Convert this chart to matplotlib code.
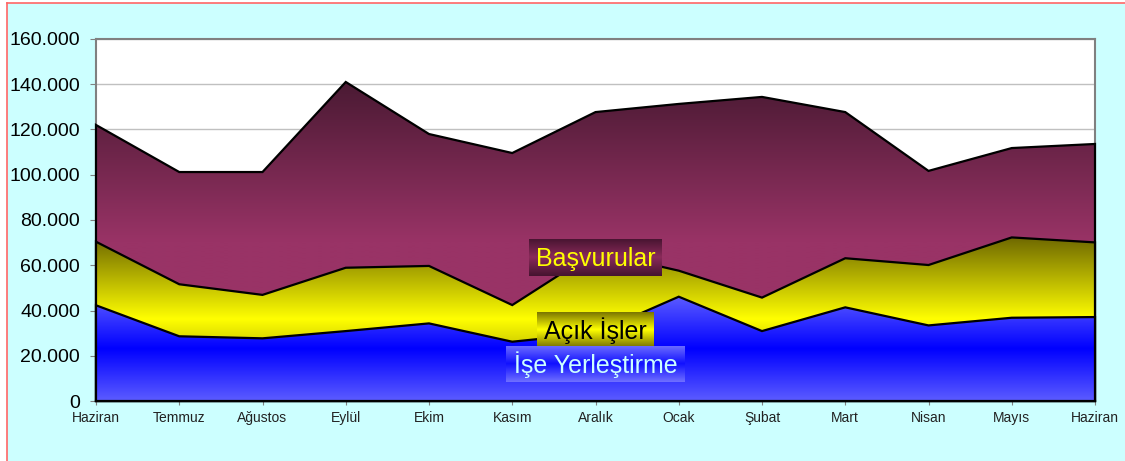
import matplotlib
matplotlib.use('Agg')
import matplotlib.pyplot as plt
import numpy as np
from matplotlib.colors import to_rgb
from matplotlib.patches import Polygon, Rectangle
from matplotlib.lines import Line2D
from matplotlib.ticker import FuncFormatter, MultipleLocator

plt.rcParams['font.family'] = ['Liberation Sans', 'DejaVu Sans']

# data
months = ['Haziran', 'Temmuz', 'Ağustos', 'Eylül', 'Ekim', 'Kasım', 'Aralık',
          'Ocak', 'Şubat', 'Mart', 'Nisan', 'Mayıs', 'Haziran']
basvurular = [122000, 101200, 101200, 141000, 118000, 109600, 127700,
              131300, 134400, 127700, 101700, 111800, 113600]
acik_isler = [70400, 51600, 46900, 58900, 59700, 42400, 66000,
              57600, 45700, 63100, 60100, 72300, 70100]
ise_yerlestirme = [42300, 28600, 27700, 30900, 34300, 26200, 30000,
                   46100, 30900, 41400, 33400, 36800, 37100]
label_names = ['Başvurular', 'Açık İşler', 'İşe Yerleştirme']

W, H = 1125, 461


def grad_img(center, edge, lower_flat=False):
    # vertical gradient: edge colour at both ends, centre colour in the middle
    t = np.linspace(0, 1, 256)
    d = np.abs(t - 0.5) / 0.5
    if lower_flat:
        d[t < 0.5] = 0
    c0 = np.array(to_rgb(center))
    c1 = np.array(to_rgb(edge))
    img = c0[None, :] * (1 - d[:, None]) + c1[None, :] * d[:, None]
    return img[:, None, :]


fig = plt.figure(figsize=(W / 100, H / 100), dpi=100, facecolor='#ccffff')
# white strips outside the red frame
fig.add_artist(Rectangle((0, 0), 6.5 / W, 1, transform=fig.transFigure,
                         facecolor='white', edgecolor='none'))
fig.add_artist(Rectangle((0, 1 - 3 / H), 1, 3 / H, transform=fig.transFigure,
                         facecolor='white', edgecolor='none'))
fig.add_artist(Line2D([6.5 / W, 6.5 / W], [0, 1 - 3 / H], color='#ff6666',
                      lw=1.2, transform=fig.transFigure))
fig.add_artist(Line2D([6.5 / W, 1], [1 - 3 / H, 1 - 3 / H], color='#ff6666',
                      lw=1.2, transform=fig.transFigure))

ax = fig.add_axes([96 / W, 1 - 401 / H, (1095 - 96) / W, (401 - 39) / H])
ax.set_facecolor('white')

x = np.arange(len(months))
series = [
    (basvurular, '#993366', '#4a1a33', True, 2),
    (acik_isler, '#ffff00', '#6e6800', False, 4),
    (ise_yerlestirme, '#0000ff', '#5c5cff', False, 6),
]
for vals, center, edge, flat, z in series:
    top = max(vals)
    verts = [(x[0], 0)] + list(zip(x, vals)) + [(x[-1], 0)]
    poly = Polygon(verts, closed=True, facecolor='none', edgecolor='black',
                   lw=1.6, zorder=z + 1, joinstyle='miter', clip_on=False)
    ax.add_patch(poly)
    im = ax.imshow(grad_img(center, edge, flat), extent=(x[0], x[-1], 0, top),
                   origin='lower', aspect='auto', zorder=z,
                   interpolation='bilinear')
    im.set_clip_path(poly)

ax.set_xlim(x[0], x[-1])
ax.set_ylim(0, 160000)
ax.yaxis.set_major_locator(MultipleLocator(20000))
ax.yaxis.set_major_formatter(FuncFormatter(lambda v, p: f'{int(v):,}'.replace(',', '.')))
ax.set_xticks(x)
ax.set_xticklabels(months)
ax.grid(axis='y', color='#c0c0c0', lw=1)
ax.set_axisbelow(True)
ax.tick_params(axis='y', length=4.5, color='#808080', pad=7, labelsize=14)
ax.tick_params(axis='x', length=3, color='#808080', pad=4, labelsize=10,
               labelcolor='#222222')
for s in ['top', 'right', 'left']:
    ax.spines[s].set_color('#808080')
    ax.spines[s].set_linewidth(1.5)
ax.spines['bottom'].set_color('black')
ax.spines['bottom'].set_linewidth(1.6)

# labels drawn as gradient boxes in the middle of the chart
boxes = [
    ((529, 239, 662, 276), '#ffff00', '#8a2a5a', '#45142f'),
    ((537, 312, 654, 347), 'black', '#ffff00', '#7a7400'),
    ((506, 346, 685, 382), '#ccffff', '#1010ff', '#7070ff'),
]
for name, ((x0, y0, x1, y1), tc, center, edge) in zip(label_names, boxes):
    bx = fig.add_axes([x0 / W, 1 - y1 / H, (x1 - x0) / W, (y1 - y0) / H])
    bx.imshow(grad_img(center, edge), extent=(0, 1, 0, 1), origin='lower',
              aspect='auto', interpolation='bilinear')
    bx.set_xlim(0, 1)
    bx.set_ylim(0, 1)
    bx.axis('off')
    bx.text(0.5, 0.47, name, ha='center', va='center', fontsize=18, color=tc)

fig.savefig('out.png', dpi=100, facecolor=fig.get_facecolor())
